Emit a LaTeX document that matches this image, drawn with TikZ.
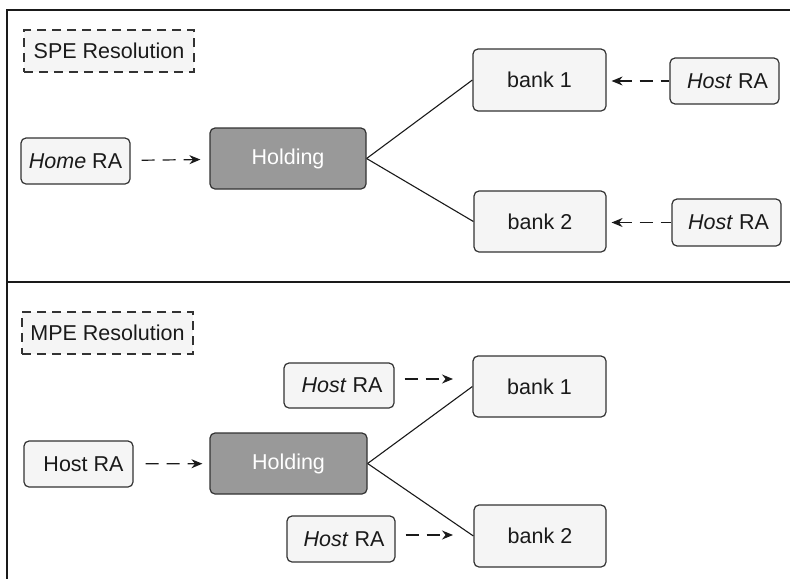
\documentclass[tikz,border=0pt]{standalone}
\usepackage{fontspec}
\setmainfont{Liberation Sans}
\usetikzlibrary{arrows.meta}
\definecolor{boxfill}{HTML}{F5F5F5}
\definecolor{boxline}{HTML}{333333}
\definecolor{holdfill}{HTML}{999999}
\definecolor{ink}{HTML}{1A1A1A}
\begin{document}
\begin{tikzpicture}[x=1pt,y=-1pt,
  every node/.style={font=\fontsize{21.5}{25}\selectfont, text=ink, inner sep=0pt},
  entity/.style={draw=boxline, fill=boxfill, rounded corners=5pt, line width=1.2pt},
  holding/.style={entity, fill=holdfill, text=white},
  caption/.style={draw=boxline, fill=boxfill, dash pattern=on 9pt off 6pt, line width=1.2pt},
  flow/.style={draw=ink, line width=1.2pt, dash pattern=on 13pt off 8pt, -{Stealth[length=11pt,width=9pt]}},
  backflow/.style={draw=ink, line width=1.2pt, dash pattern=on 13pt off 8pt, {Stealth[length=11pt,width=9pt]}-},
  link/.style={draw=ink, line width=1.1pt}]
\useasboundingbox (0,0) rectangle (790,579);
\fill[white] (0,0) rectangle (790,579);

% panel frame
\draw[line width=1.5pt, ink] (790,10) -- (7,10) -- (7,579);
\draw[line width=2.2pt, ink] (7,282) -- (790,282);

% upper panel: single point of entry
\node[caption, minimum width=170pt, minimum height=42pt] (spe) at (109,51) {SPE Resolution};
\node[entity, minimum width=109pt, minimum height=46pt] (homera) at (75.5,161) {\textit{Home} RA};
\node[holding, minimum width=156pt, minimum height=61pt] (hold1) at (288,158.5) {Holding};
\node[entity, minimum width=133pt, minimum height=62pt] (bank1a) at (539.5,80) {bank 1};
\node[entity, minimum width=132pt, minimum height=61pt] (bank2a) at (540,221.5) {bank 2};
\node[entity, minimum width=109pt, minimum height=46pt] (host1a) at (724.5,81) {\hspace{6pt}\textit{Host} RA};
\node[entity, minimum width=109pt, minimum height=47pt] (host2a) at (726.5,222.5) {\hspace{4pt}\textit{Host} RA};

\draw[flow, shorten <=11pt, shorten >=9pt] (homera) -- (hold1);
\draw[link] (hold1.east) -- (bank1a.west);
\draw[link] (hold1.east) -- (bank2a.west);
\draw[backflow, shorten <=5pt] (bank1a.east |- host1a.west) -- (host1a.west);
\draw[backflow, shorten <=5pt] (bank2a.east |- host2a.west) -- (host2a.west);

% lower panel: multiple points of entry
\node[caption, minimum width=171pt, minimum height=42pt] (mpe) at (107.5,333) {MPE Resolution};
\node[entity, minimum width=109pt, minimum height=46pt] (hostL) at (78.5,464) {\hspace{10pt}Host RA};
\node[holding, minimum width=157pt, minimum height=61pt] (hold2) at (288.5,463.5) {Holding};
\node[entity, minimum width=110pt, minimum height=45pt] (host1b) at (339,385.5) {\hspace{6pt}\textit{Host} RA};
\node[entity, minimum width=108pt, minimum height=46pt] (host2b) at (341,539) {\hspace{6pt}\textit{Host} RA};
\node[entity, minimum width=133pt, minimum height=61pt] (bank1b) at (539.5,386.5) {bank 1};
\node[entity, minimum width=132pt, minimum height=62pt] (bank2b) at (540,536) {bank 2};

\coordinate (tip1) at (453,379);
\coordinate (tip2) at (453,535);

\draw[flow, shorten <=12pt, shorten >=7pt] (hostL) -- (hold2);
\draw[link] (hold2.east) -- (bank1b.west);
\draw[link] (hold2.east) -- (bank2b.west);
\draw[flow, shorten <=10pt] (host1b.east |- tip1) -- (tip1);
\draw[flow, shorten <=10pt] (host2b.east |- tip2) -- (tip2);
\end{tikzpicture}
\end{document}
